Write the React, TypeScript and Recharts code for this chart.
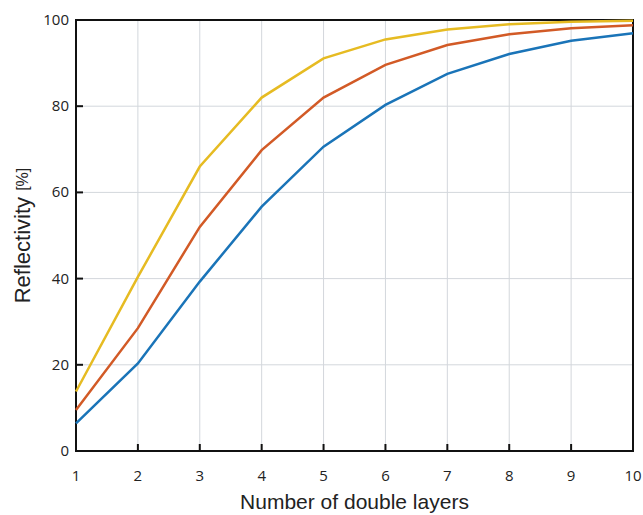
import React from 'react';
import { LineChart, Line, XAxis, YAxis, CartesianGrid, Label, ReferenceArea } from 'recharts';

const layers = [1, 2, 3, 4, 5, 6, 7, 8, 9, 10];
const seriesBlue = [6.4, 20.3, 39.3, 56.7, 70.6, 80.3, 87.5, 92.1, 95.2, 96.9];
const seriesRed = [9.5, 28.5, 52.0, 69.8, 82.0, 89.6, 94.2, 96.7, 98.1, 98.8];
const seriesYellow = [13.8, 40.4, 66.0, 82.0, 91.1, 95.5, 97.8, 99.0, 99.6, 99.8];
const xTicks = [1, 2, 3, 4, 5, 6, 7, 8, 9, 10];
const yTicks = [0, 20, 40, 60, 80, 100];

const data = layers.map((n, i) => ({
  n,
  blue: seriesBlue[i],
  red: seriesRed[i],
  yellow: seriesYellow[i],
}));

const FONT = '"Open Sans", sans-serif';
const TICK_LEN = 7;

const BottomTick = (props: any) => {
  const { x, y, payload } = props;
  return (
    <g>
      <line x1={x} y1={y} x2={x} y2={y - TICK_LEN} stroke="#111" strokeWidth={2} />
      <text x={x} y={y + 30} textAnchor="middle" fontFamily={FONT} fontSize={15} fill="#222">
        {payload.value}
      </text>
    </g>
  );
};

const LeftTick = (props: any) => {
  const { x, y, payload } = props;
  return (
    <g>
      <line x1={x} y1={y} x2={x + TICK_LEN} y2={y} stroke="#111" strokeWidth={2} />
      <text x={x - 7} y={y + 5} textAnchor="end" fontFamily={FONT} fontSize={15} fill="#222">
        {payload.value}
      </text>
    </g>
  );
};

const TopTick = (props: any) => {
  const { x, y } = props;
  return <line x1={x} y1={y} x2={x} y2={y + TICK_LEN} stroke="#111" strokeWidth={2} />;
};

const RightTick = (props: any) => {
  const { x, y } = props;
  return <line x1={x} y1={y} x2={x - TICK_LEN} y2={y} stroke="#111" strokeWidth={2} />;
};

const YTitle = (props: any) => {
  const vb = props.viewBox || {};
  const cx = 22;
  const cy = vb.y + vb.height / 2;
  return (
    <text
      x={cx}
      y={cy}
      transform={`rotate(-90 ${cx} ${cy})`}
      textAnchor="middle"
      dominantBaseline="central"
      fontFamily='"Liberation Sans", Arial, sans-serif'
      fill="#222"
    >
      <tspan fontSize={22}>Reflectivity </tspan>
      <tspan fontSize={16}>[%]</tspan>
    </text>
  );
};

export default function App() {
  return (
    <div style={{ position: 'absolute', left: 0, top: 0, background: '#fff' }}>
      <LineChart width={643} height={515} data={data} margin={{ top: 20, right: 10, left: 0, bottom: 0 }}>
        <CartesianGrid stroke="#d3d7dc" strokeWidth={1} />
        <XAxis
          dataKey="n"
          type="number"
          domain={[1, 10]}
          ticks={xTicks}
          interval={0}
          height={64}
          tickSize={0}
          tickMargin={0}
          axisLine={false}
          tickLine={false}
          tick={<BottomTick />}
        >
          <Label
            value="Number of double layers"
            position="insideBottom"
            offset={6}
            style={{ fontFamily: '"Liberation Sans", Arial, sans-serif', fontSize: 21, fill: '#222' }}
          />
        </XAxis>
        <XAxis
          xAxisId="top"
          dataKey="n"
          type="number"
          domain={[1, 10]}
          ticks={xTicks}
          interval={0}
          orientation="top"
          height={0}
          tickSize={0}
          tickMargin={0}
          axisLine={false}
          tickLine={false}
          tick={<TopTick />}
        />
        <YAxis
          type="number"
          domain={[0, 100]}
          ticks={yTicks}
          interval={0}
          width={76}
          tickSize={0}
          tickMargin={0}
          axisLine={false}
          tickLine={false}
          tick={<LeftTick />}
        >
          <Label content={<YTitle />} />
        </YAxis>
        <YAxis
          yAxisId="right"
          type="number"
          domain={[0, 100]}
          ticks={yTicks}
          interval={0}
          orientation="right"
          width={0}
          tickSize={0}
          tickMargin={0}
          axisLine={false}
          tickLine={false}
          tick={<RightTick />}
        />
        <Line type="linear" dataKey="blue" stroke="#1a74b8" strokeWidth={2.5} dot={false} isAnimationActive={false} />
        <Line type="linear" dataKey="red" stroke="#d25a26" strokeWidth={2.5} dot={false} isAnimationActive={false} />
        <Line type="linear" dataKey="yellow" stroke="#e6bb22" strokeWidth={2.5} dot={false} isAnimationActive={false} />
        <ReferenceArea x1={1} x2={10} y1={0} y2={100} fill="none" fillOpacity={0} stroke="#111" strokeWidth={2} ifOverflow="visible" />
      </LineChart>
    </div>
  );
}
